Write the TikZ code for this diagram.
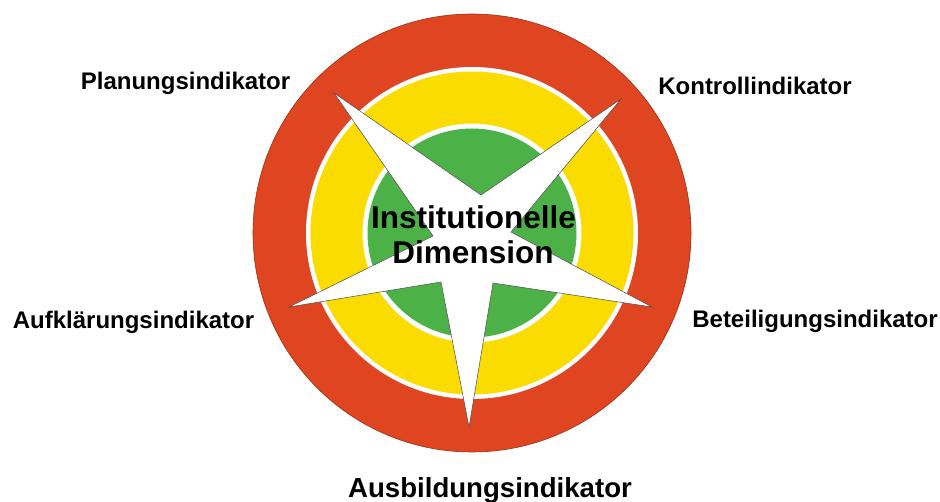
\documentclass[tikz,border=0pt]{standalone}
\usepackage{fontspec}
\setmainfont{Liberation Sans}
\usetikzlibrary{positioning, calc}
\definecolor{ringred}{HTML}{DE4520}
\definecolor{ringyellow}{HTML}{FADC00}
\definecolor{ringgreen}{HTML}{4CB247}
\definecolor{edgegray}{HTML}{4A4A4A}

\begin{document}
\begin{tikzpicture}[
    x=1pt, y=-1pt,
    ring/.style={line width=0pt},
    gap/.style={fill=white},
    starshape/.style={
        fill=white, draw=edgegray, line width=0.5pt, line join=miter,
    },
    indicator/.style={
        font=\bfseries\fontsize{24}{28}\selectfont,
        inner sep=0pt, anchor=base,
    },
    dimtext/.style={
        font=\bfseries\fontsize{31.5}{35}\selectfont,
        inner sep=0pt, anchor=base,
    },
]
\useasboundingbox (0,0) rectangle (940,502);

% Rings (outside in)
\coordinate (c) at (472,233);
\fill[ringred, draw=ringred!70!black, line width=0.6pt] (c) circle[radius=219pt];
\fill[gap] (c) circle[radius=166pt];
\fill[ringyellow] (c) circle[radius=161.5pt];
\fill[gap] (c) circle[radius=109.5pt];
\fill[ringgreen] (c) circle[radius=104.5pt];

% Star
\filldraw[starshape]
    (334,93) -- (481,195) -- (621,99) -- (511,232)
    -- (652,307) -- (493,283) -- (469,427) -- (441,282)
    -- (289,307) -- (433,236) -- cycle;

% Centre text
\node[dimtext] (inst) at (473.5,229) {Institutionelle};
\node[dimtext] (dimn) at (473,264) {Dimension};

% Indicators
\node[indicator] (plan) at (185.5,90) {Planungsindikator};
\node[indicator] (kontr) at (755,95) {Kontrollindikator};
\node[indicator] (aufkl) at (133.5,329) {Aufklärungsindikator};
\node[indicator] (beteil) at (815,328) {Beteiligungsindikator};
\node[indicator, font=\bfseries\fontsize{27.6}{32}\selectfont] (ausb) at (490,497)
    {Ausbildungsindikator};

\end{tikzpicture}
\end{document}
